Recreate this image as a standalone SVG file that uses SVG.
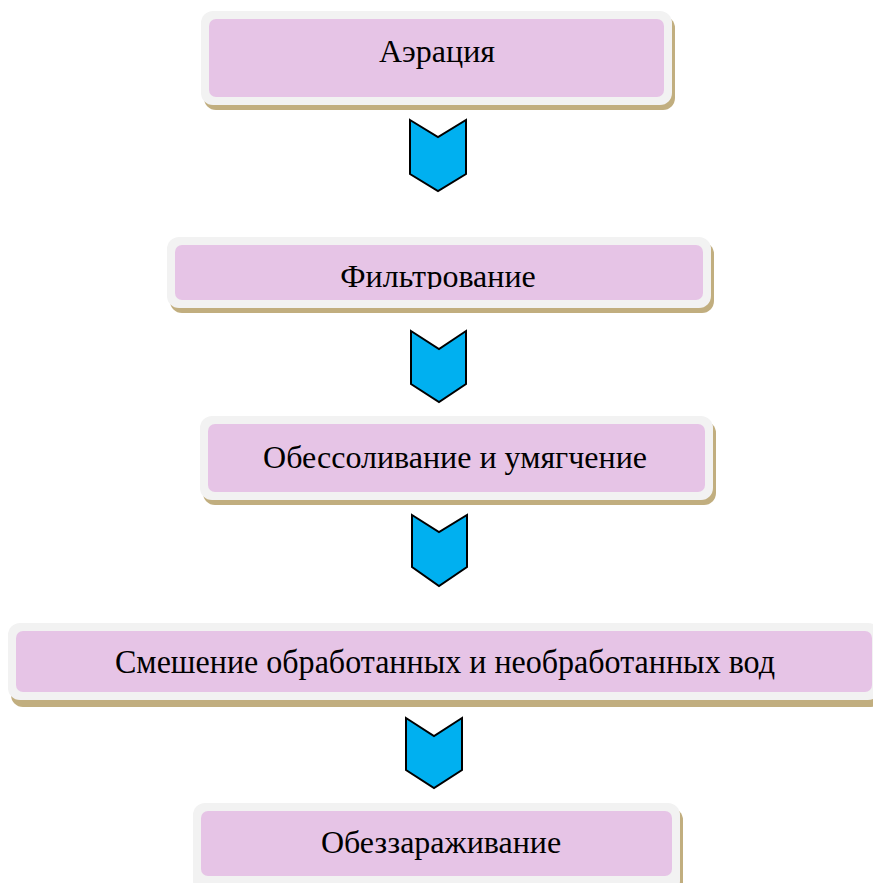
<svg xmlns="http://www.w3.org/2000/svg" width="873" height="883" viewBox="0 0 873 883">
<style>
.sh{fill:#c1ae7f}
.fr{fill:#f2f2f2}
.in{fill:#e6c4e6}
.t{font-family:"Liberation Serif","Times New Roman",serif;font-size:32px;fill:#000;text-anchor:middle}
.ar{fill:#00b0f0;stroke:#000;stroke-width:2;stroke-linejoin:miter}
</style>
<defs>
<clipPath id="c2"><rect x="175" y="245" width="528" height="44"/></clipPath>
</defs>
<rect width="873" height="883" fill="#fff"/>
<g id="n1">
<rect class="sh" x="204" y="16" width="471" height="94" rx="12"/>
<rect class="fr" x="201" y="11" width="471" height="94" rx="12"/>
<rect class="in" x="209" y="19" width="455" height="78" rx="7"/>
<text class="t" x="437" y="62">Аэрация</text>
</g>
<g id="n2">
<rect class="sh" x="170" y="242" width="544" height="71" rx="12"/>
<rect class="fr" x="167" y="237" width="544" height="71" rx="12"/>
<rect class="in" x="175" y="245" width="528" height="55" rx="7"/>
<text class="t" x="438" y="287" clip-path="url(#c2)">Фильтрование</text>
</g>
<g id="n3">
<rect class="sh" x="203" y="421" width="513" height="84" rx="12"/>
<rect class="fr" x="200" y="416" width="513" height="84" rx="12"/>
<rect class="in" x="208" y="424" width="497" height="68" rx="7"/>
<text class="t" x="455" y="468">Обессоливание и умягчение</text>
</g>
<g id="n4">
<rect class="sh" x="11" y="628" width="872" height="79" rx="12"/>
<rect class="fr" x="8" y="623" width="872" height="77" rx="12"/>
<rect class="in" x="16" y="631" width="856" height="61" rx="7"/>
<text class="t" x="445" y="673" style="font-size:33px" textLength="660" lengthAdjust="spacingAndGlyphs">Смешение обработанных и необработанных вод</text>
</g>
<g id="n5">
<rect class="sh" x="196" y="808" width="487" height="90" rx="12"/>
<rect class="fr" x="193" y="803" width="487" height="90" rx="12"/>
<rect class="in" x="201" y="811" width="471" height="65" rx="7"/>
<text class="t" x="441" y="853">Обеззараживание</text>
</g>
<g id="connectors">
<polygon class="ar" points="410,120 438,137 466,120 466,174 438,191 410,174"/>
<polygon class="ar" points="411,331 439,349 466,331 466,384 439,402 411,384"/>
<polygon class="ar" points="412,515 439,532 467,515 467,567 439,586 412,567"/>
<polygon class="ar" points="406,718 434,736 462,718 462,770 434,788 406,770"/>
</g>
</svg>
